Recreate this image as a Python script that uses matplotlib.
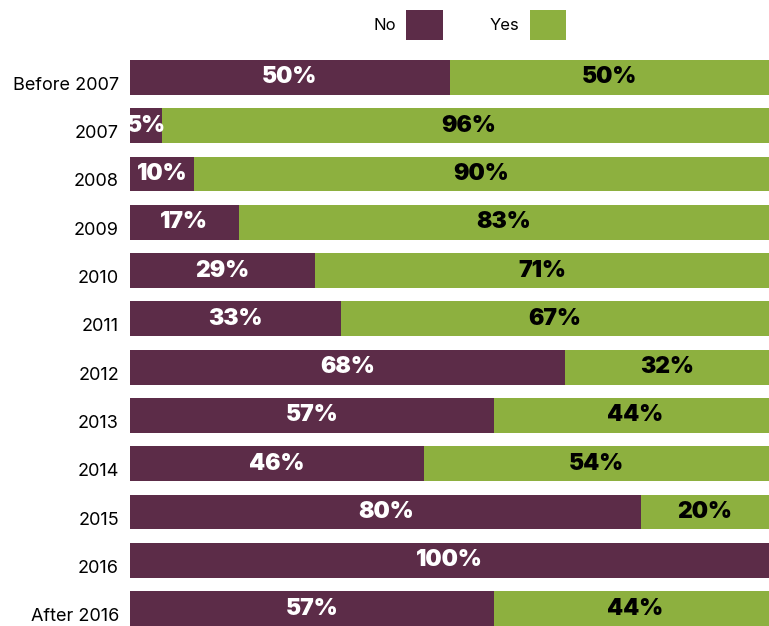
import matplotlib.pyplot as plt
import matplotlib.transforms as mtransforms
import numpy as np

periods = ["Before 2007", "2007", "2008", "2009", "2010", "2011", "2012",
           "2013", "2014", "2015", "2016", "After 2016"]
no_pct = [50, 5, 10, 17, 29, 33, 68, 57, 46, 80, 100, 57]
yes_pct = [50, 96, 90, 83, 71, 67, 32, 44, 54, 20, 0, 44]

no_color = "#5c2c48"
yes_color = "#8db03f"

plt.rcParams['font.family'] = ['Inter', 'DejaVu Sans']

no = np.array(no_pct, dtype=float)
yes = np.array(yes_pct, dtype=float)
y = np.arange(len(periods))

fig = plt.figure(figsize=(7.69, 6.26), dpi=100)
ax = fig.add_axes([130 / 769, 0, 639 / 769, 566 / 626])

# stacked on raw values, rows summing to 101 just run off the right edge
ax.barh(y, no, height=0.72, color=no_color, label="No")
ax.barh(y, yes, left=no, height=0.72, color=yes_color, label="Yes")

# labels inside bars
for i in range(len(periods)):
    if no[i] > 0:
        ax.text(no[i] / 2, i, f"{no_pct[i]}%", ha="center", va="center",
                color="white", fontsize=16.5, fontweight="black")
    if yes[i] > 0:
        ax.text(no[i] + yes[i] / 2, i, f"{yes_pct[i]}%", ha="center", va="center",
                color="black", fontsize=16.5, fontweight="black")

ax.set_xlim(0, 100)
ax.set_ylim(len(periods) - 1 + 0.36, -0.36)
ax.set_yticks(y)
ax.set_yticklabels(periods, fontsize=13)
ax.tick_params(axis="y", length=0, pad=8)
ax.set_xticks([])
for s in ax.spines.values():
    s.set_visible(False)

# nudge tick labels a bit down like the original
offset = mtransforms.ScaledTranslation(0, -6 / 100, fig.dpi_scale_trans)
for lbl in ax.get_yticklabels():
    lbl.set_transform(lbl.get_transform() + offset)

fig.legend(loc="center", bbox_to_anchor=(470 / 769, 1 - 25 / 626), ncol=2,
           frameon=False, markerfirst=False, fontsize=12,
           handlelength=2.2, handleheight=2.4, columnspacing=2.8, handletextpad=0.6)

fig.savefig("out.png", dpi=100)
